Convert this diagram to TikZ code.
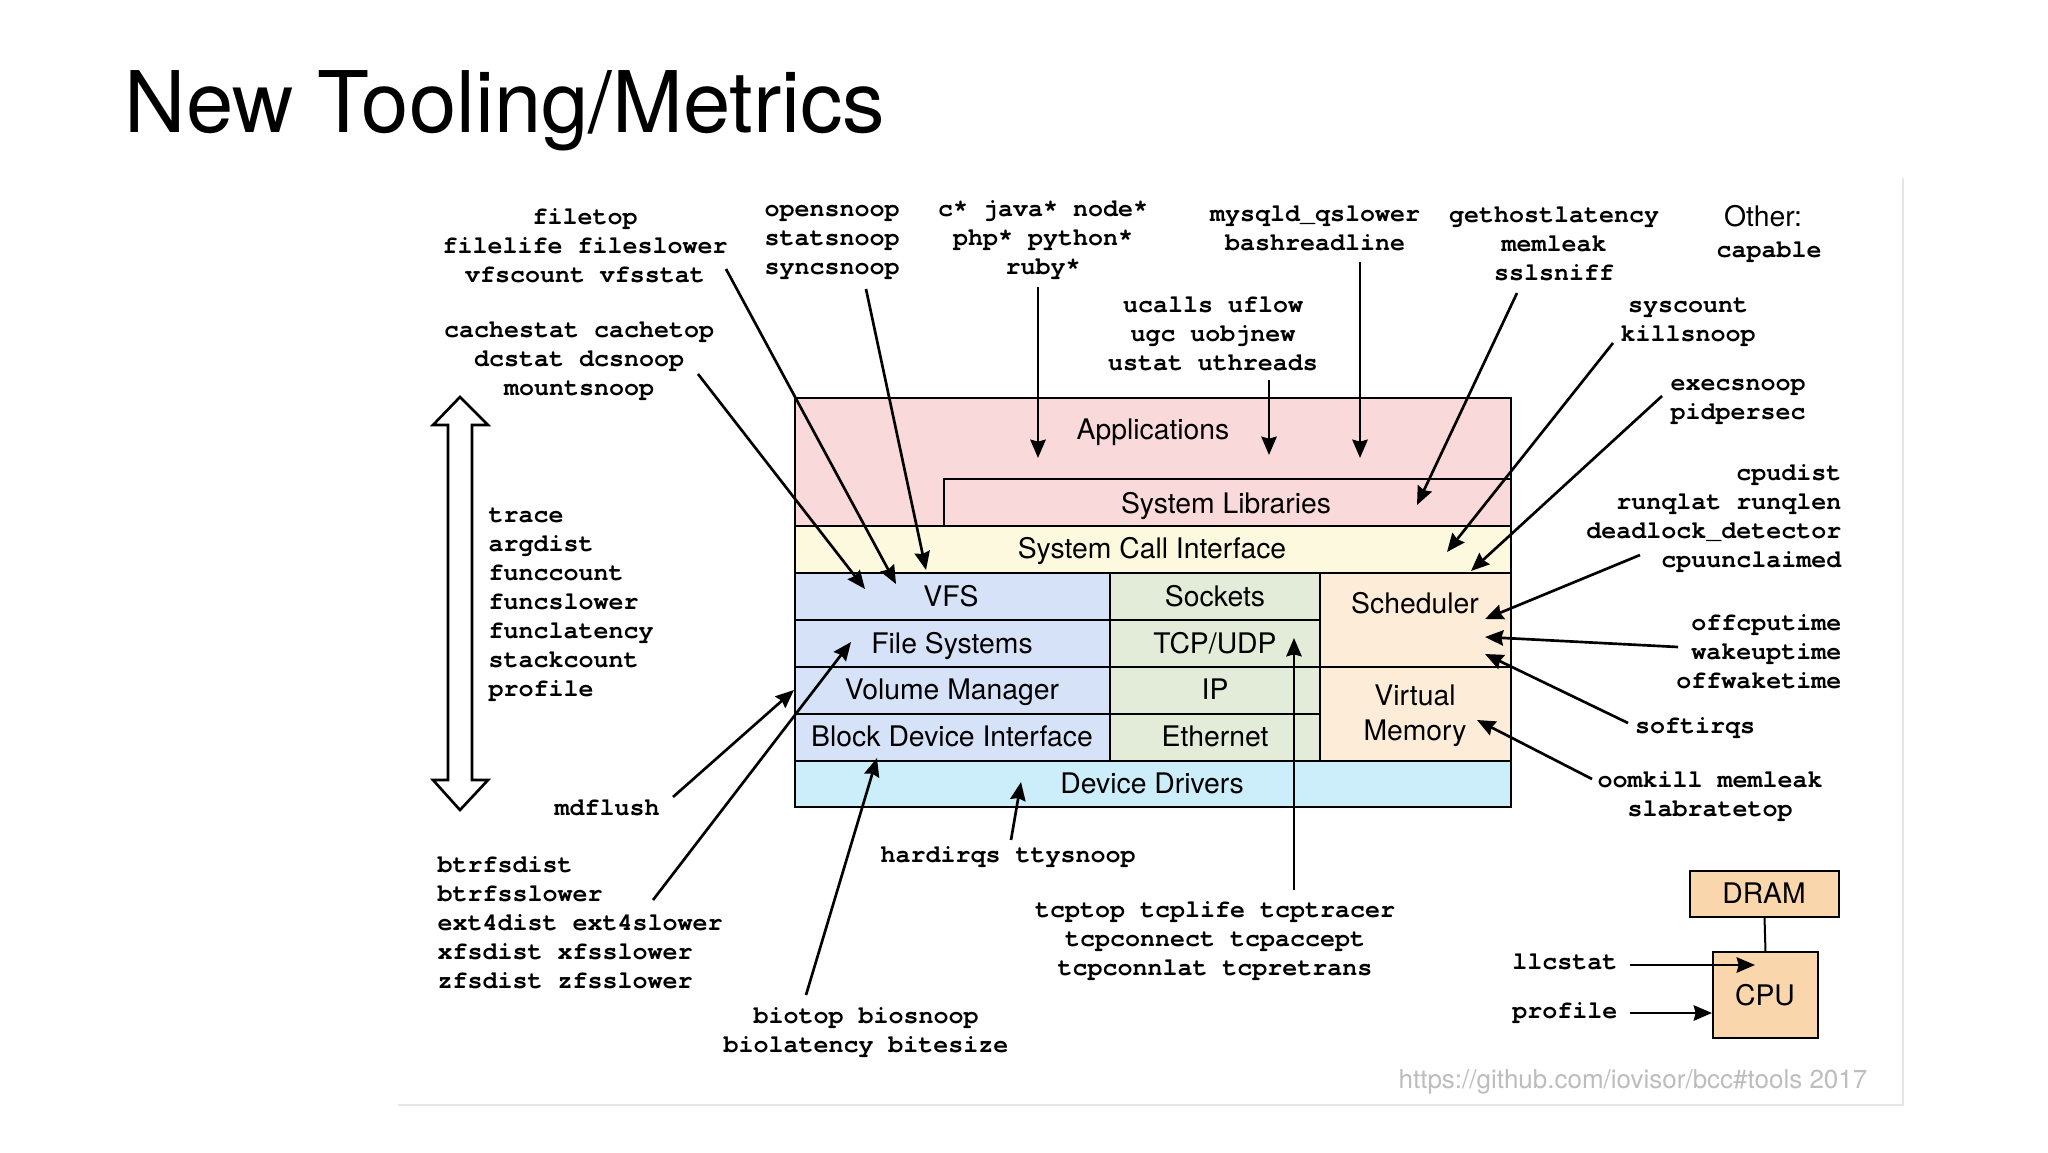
\documentclass[tikz,border=0pt]{standalone}
\usepackage{fontspec}
\setmainfont{TeX Gyre Heros}
\newfontfamily\monofont{texgyrecursor-bold.otf}[Ligatures=NoCommon]
\usetikzlibrary{arrows.meta}
\definecolor{appc}{HTML}{F9D9DA}
\definecolor{scic}{HTML}{FCF9DE}
\definecolor{fsc}{HTML}{D6E2F8}
\definecolor{netc}{HTML}{E2ECD8}
\definecolor{schc}{HTML}{FDEDD8}
\definecolor{ddc}{HTML}{CCEEFB}
\definecolor{hwc}{HTML}{FAD6AC}
\definecolor{framec}{HTML}{E6E6E6}
\definecolor{urlc}{HTML}{BDBDBD}
\newcommand\boxnode[6]{\node[box, fill=#6, minimum width={(#4-#2)*0.3pt}, minimum height={(#5-#3)*0.3pt}] (#1) at ({(#2+#4)/2},{(#3+#5)/2}) {};}
\begin{document}
\begin{tikzpicture}[x=0.3pt,y=-0.3pt,
  box/.style={draw=black, line width=0.6pt, inner sep=0pt, outer sep=0pt},
  lbl/.style={font=\fontsize{8.5}{10.5}\selectfont, inner sep=0pt, anchor=base},
  tool/.style={font=\monofont\fontsize{7.5}{8.7}\selectfont, inner sep=0pt, align=center, anchor=north},
  toolL/.style={tool, align=left, anchor=north west},
  toolR/.style={tool, align=right, anchor=north east},
  toolone/.style={tool, anchor=base},
  arr/.style={-{Stealth[length=5.5pt,width=4.6pt,inset=0.6pt]}, line width=0.8pt},
]
\useasboundingbox (0,0) rectangle (2048,1153);
\fill[white] (0,0) rectangle (2048,1153);

% frame of the figure
\draw[framec, line width=0.7pt] (398,1105) -- (1903,1105) -- (1903,178);

% title
\node[font=\fontsize{25.5}{30}\selectfont, inner sep=0pt, anchor=base west] (title) at (124,133) {New Tooling/Metrics};

% stack
\boxnode{apps}{795}{398}{1511}{526}{appc}
\boxnode{syslib}{944}{479}{1511}{526}{appc}
\boxnode{sci}{795}{526}{1511}{573}{scic}
\boxnode{vfs}{795}{573}{1110}{620}{fsc}
\boxnode{fs}{795}{620}{1110}{667}{fsc}
\boxnode{vol}{795}{667}{1110}{714}{fsc}
\boxnode{bdi}{795}{714}{1110}{761}{fsc}
\boxnode{sock}{1110}{573}{1320}{620}{netc}
\boxnode{tcpudp}{1110}{620}{1320}{667}{netc}
\boxnode{ip}{1110}{667}{1320}{714}{netc}
\boxnode{eth}{1110}{714}{1320}{761}{netc}
\boxnode{sched}{1320}{573}{1511}{667}{schc}
\boxnode{vmem}{1320}{667}{1511}{761}{schc}
\boxnode{dd}{795}{761}{1511}{807}{ddc}

\node[lbl] (lapps) at (1153,439) {Applications};
\node[lbl] (lsyslib) at (1226,513) {System Libraries};
\node[lbl] (lsci) at (1152,558) {System Call Interface};
\node[lbl] (lvfs) at (951,606) {VFS};
\node[lbl] (lfs) at (952,653) {File Systems};
\node[lbl] (lvol) at (952,699) {Volume Manager};
\node[lbl] (lbdi) at (952,746) {Block Device Interface};
\node[lbl] (lsock) at (1215,606) {Sockets};
\node[lbl] (ltcp) at (1215,653) {TCP/UDP};
\node[lbl] (lip) at (1215,699) {IP};
\node[lbl] (leth) at (1215,746) {Ethernet};
\node[lbl] (lsched) at (1415,613) {Scheduler};
\node[lbl, align=center, anchor=north] (lvm) at (1415,680.5) {\strut Virtual\\\strut Memory};
\node[lbl] (ldd) at (1152,793) {Device Drivers};

% hardware
\boxnode{dram}{1690}{871}{1839}{917}{hwc}
\boxnode{cpu}{1713}{952}{1818}{1038}{hwc}
\node[lbl] (ldram) at (1764,903) {DRAM};
\node[lbl] (lcpu) at (1765,1005) {CPU};
\draw[line width=0.6pt] (dram.south) -- (cpu.north);

% double arrow
\draw[line width=0.8pt, fill=white, line join=miter] (460,397) -- (488,425) -- (472,425) -- (472,780) -- (488,780) -- (460,810) -- (433,780) -- (448,780) -- (448,425) -- (433,425) -- cycle;

% tool texts
\node[tool] (ft) at (585,203.7) {\strut filetop\\\strut filelife fileslower\\\strut vfscount vfsstat};
\node[tool] (cs) at (579,316.7) {\strut cachestat cachetop\\\strut dcstat dcsnoop\\\strut mountsnoop};
\node[tool] (os) at (832,195.7) {\strut opensnoop\\\strut statsnoop\\\strut syncsnoop};
\node[tool] (cj) at (1043,195.7) {\strut c* java* node*\\\strut php* python*\\\strut ruby*};
\node[tool] (uc) at (1213,291.7) {\strut ucalls uflow\\\strut ugc uobjnew\\\strut ustat uthreads};
\node[tool] (my) at (1315,200.7) {\strut mysqld\_qslower\\\strut bashreadline};
\node[tool] (gh) at (1554,201.7) {\strut gethostlatency\\\strut memleak\\\strut sslsniff};
\node[lbl] (other) at (1763,227) {Other:};
\node[toolone] (cap) at (1769,257) {capable};
\node[tool] (sc) at (1688,291.7) {\strut syscount\\\strut killsnoop};
\node[tool] (ex) at (1738,369.7) {\strut execsnoop\\\strut pidpersec};
\node[toolR] (cd) at (1842,459.7) {\strut cpudist\\\strut runqlat runqlen\\\strut deadlock\_detector\\\strut cpuunclaimed};
\node[toolR] (oc) at (1842,609.7) {\strut offcputime\\\strut wakeuptime\\\strut offwaketime};
\node[toolone] (si) at (1695,733) {softirqs};
\node[tool] (oom) at (1710,766.7) {\strut oomkill memleak\\\strut slabratetop};
\node[toolL] (tr) at (488,501.7) {\strut trace\\\strut argdist\\\strut funccount\\\strut funcslower\\\strut funclatency\\\strut stackcount\\\strut profile};
\node[toolone] (md) at (607,815) {mdflush};
\node[toolL] (bt) at (437,851.7) {\strut btrfsdist\\\strut btrfsslower\\\strut ext4dist ext4slower\\\strut xfsdist xfsslower\\\strut zfsdist zfsslower};
\node[tool] (bio) at (866,1002.7) {\strut biotop biosnoop\\\strut biolatency bitesize};
\node[toolone] (hi) at (1008,862) {hardirqs ttysnoop};
\node[tool] (tcp) at (1215,896.7) {\strut tcptop tcplife tcptracer\\\strut tcpconnect tcpaccept\\\strut tcpconnlat tcpretrans};
\node[toolone, anchor=base east] (llc) at (1618,969) {llcstat};
\node[toolone, anchor=base east] (prof) at (1618,1018) {profile};

% url
\node[font=\fontsize{7.8}{9}\selectfont, text=urlc, inner sep=0pt, anchor=base east] (url) at (1868,1088) {https://github.com/iovisor/bcc\#tools 2017};

% arrow end points
\coordinate (a1) at (726,269);  \coordinate (a2) at (896,584);
\coordinate (b1) at (698,374);  \coordinate (b2) at (865,589);
\coordinate (c1) at (866,289);  \coordinate (c2) at (926,570);
\coordinate (d1) at (1038,287); \coordinate (d2) at (1038,458);
\coordinate (e1) at (1269,380); \coordinate (e2) at (1269,455);
\coordinate (f1) at (1360,262); \coordinate (f2) at (1360,458);
\coordinate (g1) at (1517,293); \coordinate (g2) at (1417,505);
\coordinate (h1) at (1613,343); \coordinate (h2) at (1447,552);
\coordinate (i1) at (1662,396); \coordinate (i2) at (1471,571);
\coordinate (j1) at (1640,555); \coordinate (j2) at (1485,619);
\coordinate (k1) at (1678,647); \coordinate (k2) at (1485,637);
\coordinate (l1) at (1628,723); \coordinate (l2) at (1485,654);
\coordinate (m1) at (1592,779); \coordinate (m2) at (1477,720);
\coordinate (n1) at (673,797);  \coordinate (n2) at (794,690);
\coordinate (o1) at (653,900);  \coordinate (o2) at (851,642);
\coordinate (p1) at (806,995);  \coordinate (p2) at (877,758);
\coordinate (q1) at (1011,840); \coordinate (q2) at (1021,782);
\coordinate (r1) at (1294,890); \coordinate (r2) at (1294,638);
\coordinate (s1) at (1630,965); \coordinate (s2) at (1755,965);
\coordinate (t1) at (1630,1013); \coordinate (t2) at (1712,1013);

\foreach \p in {a,b,c,d,e,f,g,h,i,j,k,l,m,n,o,p,q,r,s,t}
  \draw[arr] (\p1) -- (\p2);
\end{tikzpicture}
\end{document}
